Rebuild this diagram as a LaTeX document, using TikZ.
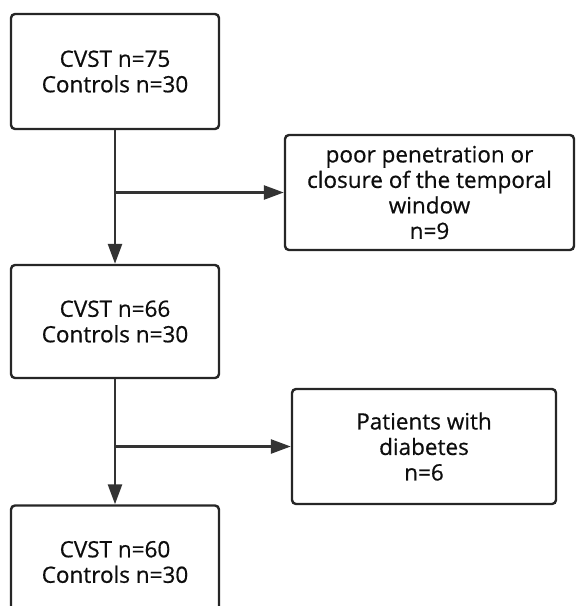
\documentclass[tikz,border=0pt]{standalone}
\usepackage{fontspec}
\setmainfont{Open Sans}[FakeBold=0.6]
\usetikzlibrary{arrows.meta,calc}
\begin{document}
\begin{tikzpicture}[x=1pt,y=-1pt,
  box/.style={draw=black!85, line width=2.4pt, rounded corners=4pt, align=center,
    font=\fontsize{22.5}{25.5}\selectfont, text=black!95, inner sep=0pt},
  conn/.style={draw=black!80, line width=2.6pt, -{Triangle[length=20pt,width=14pt]}}]
\useasboundingbox (0,0) rectangle (577,606);
\node[box, minimum width=208pt, minimum height=115pt] (b1) at (115,71.5) {CVST n=75\\Controls n=30};
\node[box, minimum width=289pt, minimum height=115pt] (b2) at (429.5,192.5) {poor penetration or\\closure of the temporal\\window\\n=9};
\node[box, minimum width=208pt, minimum height=113pt] (b3) at (115,321.5) {CVST n=66\\Controls n=30};
\node[box, minimum width=264pt, minimum height=115pt] (b4) at (424,446.5) {Patients with\\diabetes\\n=6};
\node[box, minimum width=208pt, minimum height=113pt] (b5) at (115,562) {CVST n=60\\Controls n=30};
\coordinate (j1) at (b1.south |- b2.west);
\coordinate (j2) at (b3.south |- b4.west);
\draw[conn] (b1.south) -- (b3.north);
\draw[conn] (j1) -- (b2.west);
\draw[conn] (b3.south) -- (b5.north);
\draw[conn] (j2) -- (b4.west);
\end{tikzpicture}
\end{document}
